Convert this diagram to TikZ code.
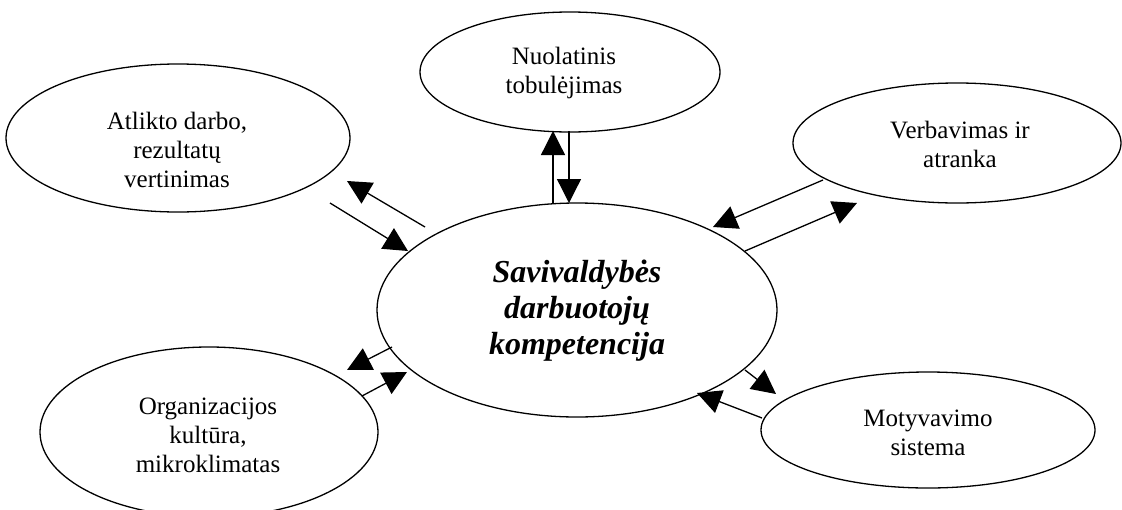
\documentclass[tikz,border=0pt]{standalone}
\usepackage{fontspec}
\setmainfont{Liberation Serif}
\usetikzlibrary{shapes.geometric,arrows.meta}

\tikzset{
  oval/.style={draw, ellipse, line width=1.3pt, inner sep=0pt},
  lbl/.style={align=center, inner sep=0pt, font=\fontsize{25}{29}\selectfont},
  mainlbl/.style={align=center, inner sep=0pt, font=\fontsize{32}{36}\selectfont\bfseries\itshape},
  link/.style={line width=1.3pt, -{Triangle[length=24pt,width=24pt]}}
}

\begin{document}
\begin{tikzpicture}[x=1pt,y=-1pt]
\useasboundingbox (0,0) rectangle (1122,509);

% ovals
\node[oval, minimum width=400pt, minimum height=214pt] (eC) at (577,310) {};
\node[oval, minimum width=344pt, minimum height=148pt] (eA) at (178,138) {};
\node[oval, minimum width=300pt, minimum height=120pt] (eN) at (570,72) {};
\node[oval, minimum width=328pt, minimum height=120pt] (eV) at (957,143) {};
\node[oval, minimum width=338pt, minimum height=170pt] (eO) at (209,432) {};
\node[oval, minimum width=334pt, minimum height=116pt] (eM) at (928,430) {};

% texts
\node[mainlbl] (tC) at (577,311) {Savivaldybės\\darbuotojų\\kompetencija};
\node[lbl] (tA) at (177,150) {Atlikto darbo,\\rezultatų\\vertinimas};
\node[lbl] (tN) at (564,73) {Nuolatinis\\tobulėjimas};
\node[lbl] (tV) at (960,144) {Verbavimas ir\\atranka};
\node[lbl] (tO) at (208,435) {Organizacijos\\kultūra,\\mikroklimatas};
\node[lbl] (tM) at (928,433) {Motyvavimo\\sistema};

% connector end points
\coordinate (a1s) at (425,227); \coordinate (a1e) at (347,181);
\coordinate (a2s) at (330,203); \coordinate (a2e) at (408,251);
\coordinate (n1s) at (553,203); \coordinate (n1e) at (553,131);
\coordinate (n2s) at (569,131); \coordinate (n2e) at (569,203);
\coordinate (v1s) at (823,180); \coordinate (v1e) at (713,227);
\coordinate (v2s) at (745,251); \coordinate (v2e) at (857,203);
\coordinate (o1s) at (392,347); \coordinate (o1e) at (347,370);
\coordinate (o2s) at (362,396); \coordinate (o2e) at (407,372);
\coordinate (m1s) at (745,370); \coordinate (m1e) at (776,394);
\coordinate (m2s) at (762,418); \coordinate (m2e) at (697,393);

% connectors
\draw[link] (a1s) -- (a1e);
\draw[link] (a2s) -- (a2e);
\draw[link] (n1s) -- (n1e);
\draw[link] (n2s) -- (n2e);
\draw[link] (v1s) -- (v1e);
\draw[link] (v2s) -- (v2e);
\draw[link] (o1s) -- (o1e);
\draw[link] (o2s) -- (o2e);
\draw[link] (m1s) -- (m1e);
\draw[link] (m2s) -- (m2e);
\end{tikzpicture}
\end{document}
